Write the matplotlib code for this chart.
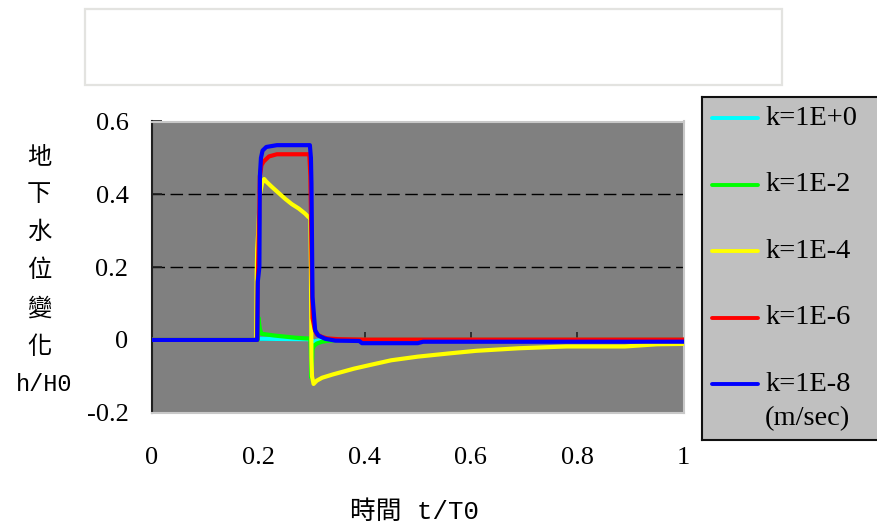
import matplotlib
matplotlib.use("Agg")
import matplotlib.pyplot as plt
from matplotlib.patches import Rectangle

plt.rcParams["axes.unicode_minus"] = False

# ---- data: normalised groundwater level change h/H0 vs. time t/T0 ----
t_k0 = [0, 0.199, 0.200, 0.210, 0.290, 0.299, 0.301, 0.305, 0.312, 0.330, 1.0]
h_k0 = [0, 0, 0.003, 0.003, 0.002, 0.002, -0.004, -0.004, -0.002, 0, 0]

t_k2 = [0, 0.199, 0.200, 0.203, 0.206, 0.215, 0.230, 0.250, 0.270, 0.290, 0.298,
        0.2995, 0.300, 0.302, 0.305, 0.310, 0.320, 0.335, 0.350, 1.0]
h_k2 = [0, 0, 0.062, 0.030, 0.017, 0.015, 0.012, 0.009, 0.006, 0.004, 0.004,
        -0.06, -0.105, -0.025, -0.016, -0.010, -0.005, -0.002, 0, 0]

t_k4 = [0, 0.196, 0.197, 0.198, 0.200, 0.203, 0.207, 0.211, 0.215, 0.225, 0.238,
        0.251, 0.263, 0.276, 0.288, 0.294, 0.298, 0.299, 0.300, 0.301, 0.304,
        0.310, 0.320, 0.340, 0.360, 0.380, 0.410, 0.450, 0.500, 0.560, 0.610,
        0.690, 0.780, 0.890, 0.950, 1.0]
h_k4 = [0, 0, 0.18, 0.25, 0.30, 0.40, 0.43, 0.442, 0.435, 0.421, 0.404,
        0.387, 0.373, 0.361, 0.347, 0.338, 0.335, 0.20, -0.05, -0.10, -0.121,
        -0.112, -0.104, -0.095, -0.087, -0.079, -0.069, -0.056, -0.046, -0.037, -0.030,
        -0.023, -0.018, -0.018, -0.012, -0.011]

t_k6 = [0, 0.198, 0.199, 0.201, 0.203, 0.206, 0.210, 0.220, 0.235, 0.296, 0.298,
        0.300, 0.302, 0.306, 0.310, 0.320, 0.330, 0.350, 0.400, 1.0]
h_k6 = [0, 0, 0.15, 0.30, 0.45, 0.48, 0.49, 0.504, 0.51, 0.51, 0.45,
        0.25, 0.06, 0.03, 0.015, 0.008, 0.004, 0.002, 0.001, 0.001]

t_k8 = [0, 0.198, 0.199, 0.202, 0.203, 0.205, 0.208, 0.215, 0.235, 0.297, 0.299,
        0.300, 0.302, 0.307, 0.313, 0.326, 0.345, 0.390, 0.395, 0.500, 0.510, 1.0]
h_k8 = [0, 0, 0.16, 0.20, 0.45, 0.50, 0.52, 0.530, 0.535, 0.535, 0.50,
        0.43, 0.118, 0.026, 0.012, 0.003, -0.002, -0.003, -0.009, -0.009, -0.005, -0.005]

series_labels = ["k=1E+0", "k=1E-2", "k=1E-4", "k=1E-6", "k=1E-8"]
series_colors = ["#00ffff", "#00ff00", "#ffff00", "#ff0000", "#0000ff"]
series_t = [t_k0, t_k2, t_k4, t_k6, t_k8]
series_h = [h_k0, h_k2, h_k4, h_k6, h_k8]
unit_note = "(m/sec)"

x_ticks = [0, 0.2, 0.4, 0.6, 0.8, 1]
x_ticklabels = ["0", "0.2", "0.4", "0.6", "0.8", "1"]
y_ticks = [-0.2, 0, 0.2, 0.4, 0.6]
y_ticklabels = ["-0.2", "0", "0.2", "0.4", "0.6"]
grid_levels = [0.2, 0.4]

y_label_chars = ["地", "下", "水", "位", "變", "化"]
y_label_unit = "h/H0"
x_label = "時間 t/T0"

# ---- figure ----
W, H = 878, 528
fig = plt.figure(figsize=(W / 100, H / 100), dpi=100, facecolor="white")

def fx(px):
    return px / W

def fy(py):
    return 1 - py / H

# empty title frame
fig.patches.append(Rectangle((fx(85), fy(85)), fx(782) - fx(85), fy(9) - fy(85),
                             transform=fig.transFigure, facecolor="white",
                             edgecolor="#e3e3e0", linewidth=1.6))

ax = fig.add_axes([fx(152), fy(412.7), fx(683.5) - fx(152), fy(121.5) - fy(412.7)])
ax.set_facecolor("#808080")

for lvl in grid_levels:
    ax.axhline(lvl, color="black", linewidth=1.0, linestyle=(0, (9, 4)), zorder=1)

lines = []
for tt, hh, c, lab in zip(series_t, series_h, series_colors, series_labels):
    ln, = ax.plot(tt, hh, color=c, linewidth=3.0, label=lab, zorder=3,
                  solid_joinstyle="round")
    lines.append(ln)

ax.set_xlim(0, 1)
ax.set_ylim(-0.2, 0.6)

for side in ["top", "right", "bottom"]:
    ax.spines[side].set_color("#c8c8c8")
    ax.spines[side].set_linewidth(1.5)
ax.spines["left"].set_color("#202020")
ax.spines["left"].set_linewidth(1.5)

tick_font = dict(family="Liberation Serif", size=19)
ax.set_yticks(y_ticks)
ax.set_yticklabels(y_ticklabels, **tick_font)
ax.tick_params(axis="y", direction="in", length=7, width=1.2, color="#202020", pad=17)
ax.set_xticks(x_ticks)
ax.set_xticklabels(x_ticklabels, **tick_font)
ax.tick_params(axis="x", length=0, pad=25)

# horizontal axis line crossing at h = 0 with inward ticks
sec = ax.secondary_xaxis(0.25)
sec.set_xticks(x_ticks)
sec.tick_params(axis="x", direction="in", length=6, width=1.2, color="#202020",
                labelbottom=False)
sec.spines["bottom"].set_color("#202020")
sec.spines["bottom"].set_linewidth(1.2)
sec.set_zorder(2)
ax.set_zorder(1)

# axis titles
cjk = ["Noto Sans CJK TC"]
for i, ch in enumerate(y_label_chars):
    fig.text(fx(39), fy(156 + i * 38.1), ch, family=cjk, size=17.5,
             ha="center", va="center")
fig.text(fx(44.5), fy(384.5), y_label_unit, family=["Liberation Mono"] + cjk,
         size=17, ha="center", va="center")
fig.text(fx(415), fy(512), x_label, family=["Liberation Mono"] + cjk,
         size=18.5, ha="center", va="center")

# legend panel
lax = fig.add_axes([fx(702.5), fy(440), fx(890) - fx(702.5), fy(97) - fy(440)])
lax.set_facecolor("#c0c0c0")
lax.set_xlim(702.5, 890)
lax.set_ylim(440, 97)
lax.set_xticks([])
lax.set_yticks([])
for sp in lax.spines.values():
    sp.set_color("#101010")
    sp.set_linewidth(1.5)

for i, ln in enumerate(lines):
    yc = 118.3 + i * 66.5
    lax.plot([712, 758], [yc, yc], color=ln.get_color(), linewidth=2.8,
             solid_capstyle="round")
    lax.text(765, yc, ln.get_label(), family="Liberation Serif", size=20.5,
             ha="left", va="center")
lax.text(765, 419, unit_note, family="Liberation Serif", size=20.5,
         ha="left", va="center")

fig.savefig("out.png", dpi=100, facecolor="white")
